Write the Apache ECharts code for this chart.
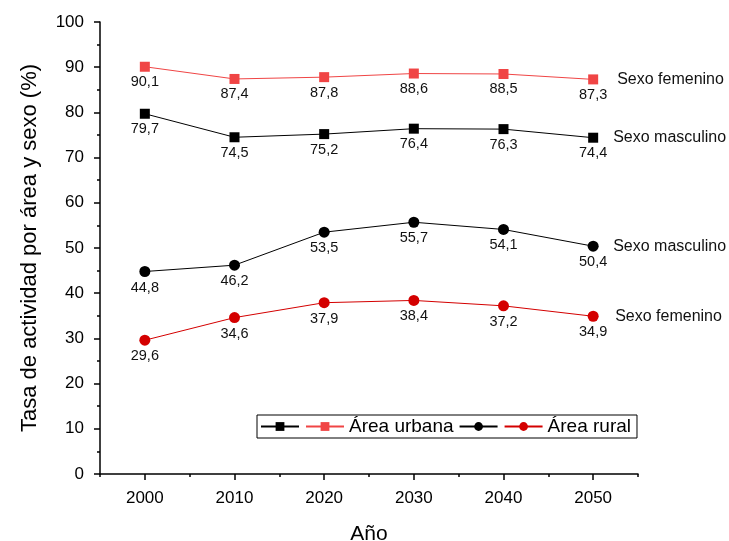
<!DOCTYPE html>
<html>
<head>
<meta charset="utf-8">
<script src="https://cdn.jsdelivr.net/npm/echarts@6/dist/echarts.min.js"></script>
<style>
  html, body { margin: 0; padding: 0; background: #fff; }
  #chart { width: 729px; height: 541px; }
</style>
</head>
<body>
<div id="chart"></div>
<script>
// Años de proyección
const years = [2000, 2010, 2020, 2030, 2040, 2050];
const yearTicks = [2000, 2010, 2020, 2030, 2040, 2050];

// Tasas de actividad (%)
const urbanaMasculino = [79.7, 74.5, 75.2, 76.4, 76.3, 74.4];
const urbanaFemenino  = [90.1, 87.4, 87.8, 88.6, 88.5, 87.3];
const ruralMasculino  = [44.8, 46.2, 53.5, 55.7, 54.1, 50.4];
const ruralFemenino   = [29.6, 34.6, 37.9, 38.4, 37.2, 34.9];

const FONT = 'Liberation Sans, Arial, sans-serif';

function pairs(vals) { return years.map((y, i) => [y, vals[i]]); }
const comma = p => p.value[1].toFixed(1).replace('.', ',');

function makeSeries(name, vals, color, symbol, size, endText, endDist) {
  return {
    name: name,
    type: 'line',
    data: pairs(vals),
    symbol: symbol,
    symbolSize: size,
    itemStyle: { color: color },
    lineStyle: { color: color, width: 1 },
    label: {
      show: true, position: 'bottom', distance: 3,
      formatter: comma, color: '#111', fontFamily: FONT, fontSize: 14.5
    },
    endLabel: {
      show: true, formatter: endText, distance: endDist,
      color: '#111', fontFamily: FONT, fontSize: 16
    },
    emphasis: { disabled: true }
  };
}

const legendText = {
  'urb_m': '', 'urb_f': 'Área urbana', 'rur_m': '', 'rur_f': 'Área rural'
};

const chart = echarts.init(document.getElementById('chart'));
chart.setOption({
  animation: false,
  backgroundColor: '#fff',
  grid: { left: 100, top: 22, right: 91, bottom: 67, outerBoundsMode: 'none', containLabel: false },
  legend: {
    left: 257, top: 415,
    data: ['urb_m', 'urb_f', 'rur_m', 'rur_f'],
    formatter: n => legendText[n],
    borderColor: '#000', borderWidth: 1,
    padding: [2, 6, 2, 3],
    itemWidth: 38, itemHeight: 11, itemGap: 5,
    textStyle: { fontFamily: FONT, fontSize: 19, color: '#000' }
  },
  xAxis: [{
    type: 'value', min: 1995, max: 2055, interval: 5,
    name: 'Año', nameLocation: 'middle', nameGap: 50,
    nameTextStyle: { fontFamily: FONT, fontSize: 21, color: '#000' },
    axisLine: { show: true, lineStyle: { color: '#000', width: 1.5 } },
    axisTick: { show: true, length: 3, lineStyle: { color: '#000', width: 1.5 } },
    axisLabel: {
      customValues: yearTicks, formatter: v => String(v),
      fontFamily: FONT, fontSize: 17, color: '#000', margin: 16
    },
    splitLine: { show: false }
  }, {
    type: 'value', min: 1995, max: 2055, position: 'bottom',
    axisLine: { show: false },
    axisTick: { show: true, length: 6, customValues: yearTicks, lineStyle: { color: '#000', width: 1.5 } },
    axisLabel: { show: false },
    splitLine: { show: false }
  }],
  yAxis: {
    type: 'value', min: 0, max: 100, interval: 10,
    name: 'Tasa de actividad por área y sexo (%)', nameLocation: 'middle', nameGap: 59,
    nameTextStyle: { fontFamily: FONT, fontSize: 22, color: '#000' },
    axisLine: { show: true, lineStyle: { color: '#000', width: 1.5 } },
    axisTick: { show: true, length: 6, lineStyle: { color: '#000', width: 1.5 } },
    minorTick: { show: true, splitNumber: 2, length: 3, lineStyle: { color: '#000', width: 1.5 } },
    axisLabel: { fontFamily: FONT, fontSize: 17, color: '#000', margin: 16 },
    splitLine: { show: false }
  },
  series: [
    makeSeries('urb_m', urbanaMasculino, '#000000', 'rect', 10, 'Sexo masculino', 20),
    makeSeries('urb_f', urbanaFemenino, '#f04545', 'rect', 10, 'Sexo femenino', 24),
    makeSeries('rur_m', ruralMasculino, '#000000', 'circle', 11, 'Sexo masculino', 20),
    makeSeries('rur_f', ruralFemenino, '#d40000', 'circle', 11, 'Sexo femenino', 22)
  ]
});
</script>
</body>
</html>
